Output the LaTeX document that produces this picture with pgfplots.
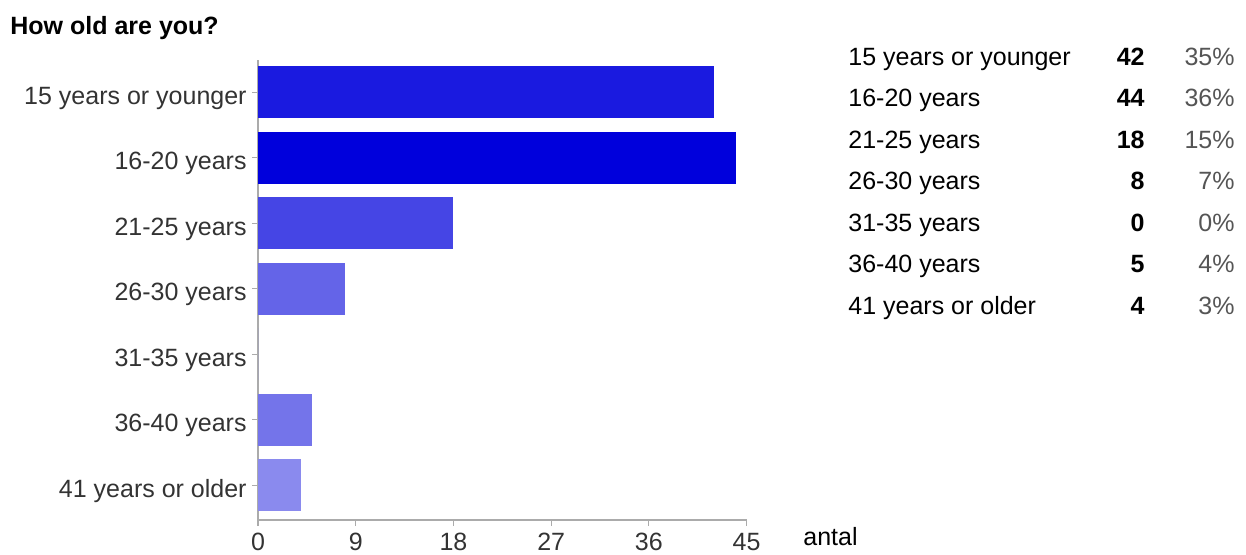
\documentclass[border=0pt]{standalone}
\usepackage{fontspec}
\setmainfont{Liberation Sans}
\usepackage{pgfplots}
\pgfplotsset{compat=1.18}

% bar colours, one per age group
\definecolor{cA}{HTML}{1A1AE0}
\definecolor{cB}{HTML}{0000DC}
\definecolor{cC}{HTML}{4545E5}
\definecolor{cD}{HTML}{6464E8}
\definecolor{cE}{HTML}{7C7CEB}
\definecolor{cF}{HTML}{7474EA}
\definecolor{cG}{HTML}{8A8AEE}
\definecolor{axisgray}{HTML}{ABABAB}
\definecolor{labelgray}{HTML}{333333}
\definecolor{pctgray}{HTML}{555555}

\begin{document}
\begin{tikzpicture}
% page frame
\path (-129pt,-17pt) rectangle (494pt,260pt);

\begin{axis}[
  at={(0,0)}, anchor=south west,
  scale only axis,
  width=244.3pt, height=230pt,
  xmin=0, xmax=45, ymin=-0.53, ymax=6.49,
  xbar, bar width=26pt, bar shift=0pt,
  axis lines*=left,
  axis line style={draw=axisgray, line width=0.6pt},
  tick style={draw=axisgray, line width=0.6pt},
  tick align=outside, major tick length=3pt,
  xtick={0,9,18,27,36,45},
  ytick={0,1,2,3,4,5,6},
  yticklabels={41 years or older,36-40 years,31-35 years,26-30 years,21-25 years,16-20 years,15 years or younger},
  /pgf/number format/assume math mode=true,
  ticklabel style={font=\fontsize{12.5pt}{14pt}\selectfont, text=labelgray},
  yticklabel style={inner sep=0pt, xshift=-2.5pt, yshift=-3pt},
  xticklabel style={inner sep=0pt, yshift=-3.5pt},
  clip=false,
]
\addplot[fill=cA, draw=none] coordinates {(42,6)};
\addplot[fill=cB, draw=none] coordinates {(44,5)};
\addplot[fill=cC, draw=none] coordinates {(18,4)};
\addplot[fill=cD, draw=none] coordinates {(8,3)};
\addplot[fill=cE, draw=none] coordinates {(0,2)};
\addplot[fill=cF, draw=none] coordinates {(5,1)};
\addplot[fill=cG, draw=none] coordinates {(4,0)};
\end{axis}

% title
\node[anchor=base west, inner sep=0pt, font=\bfseries\fontsize{12.5pt}{14pt}\selectfont]
  at (-124pt,243pt) {How old are you?};

% axis name
\node[anchor=base west, inner sep=0pt, font=\fontsize{12.5pt}{14pt}\selectfont]
  at (272.5pt,-12.5pt) {antal};

% summary table
\foreach \lab/\n/\p [count=\i from 0] in {15 years or younger/42/35\%,16-20 years/44/36\%,21-25 years/18/15\%,26-30 years/8/7\%,31-35 years/0/0\%,36-40 years/5/4\%,41 years or older/4/3\%}{
  \pgfmathsetmacro{\yy}{227.5-20.75*\i}
  \node[anchor=base west, inner sep=0pt, font=\fontsize{12.5pt}{14pt}\selectfont] at (295pt,\yy pt) {\lab};
  \node[anchor=base east, inner sep=0pt, font=\bfseries\fontsize{12.5pt}{14pt}\selectfont] at (443.5pt,\yy pt) {\n};
  \node[anchor=base east, inner sep=0pt, text=pctgray, font=\fontsize{12.5pt}{14pt}\selectfont] at (488.5pt,\yy pt) {\p};
}
\end{tikzpicture}
\end{document}
